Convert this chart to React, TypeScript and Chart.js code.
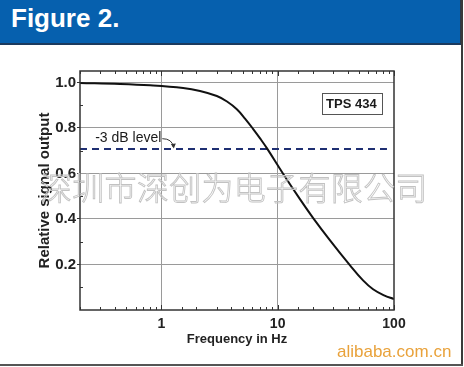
import React, { useEffect, useRef } from 'react';
import { Chart, registerables } from 'chart.js';

Chart.register(...registerables);

// ---- data ----
const freqHz = [0.2, 0.44, 0.8, 1.54, 2.15, 3.0, 3.67, 4.48, 5.24, 6.14, 7.06, 8.1, 11.1, 15.6, 20.2, 28.2, 41.9, 54.2, 66.1, 82.2, 100];
const relOutput = [0.997, 0.993, 0.987, 0.975, 0.962, 0.940, 0.916, 0.881, 0.841, 0.796, 0.754, 0.71, 0.6, 0.486, 0.404, 0.306, 0.196, 0.13, 0.091, 0.064, 0.048];
const levelFreq = [0.2, 87];
const levelValue = [0.707, 0.707];
const xTickLabels = [1, 10, 100];
const yTickLabels = [0.2, 0.4, 0.6, 0.8, 1.0];
const titleText = 'Figure 2.';
const xTitle = 'Frequency in Hz';
const yTitle = 'Relative signal output';
const levelLabel = '-3 dB level';
const levelLabelPos = [0.27, 0.757];
const deviceLabel = 'TPS 434';
const deviceLabelPos = [43, 0.909];
const watermark = '深圳市深创为电子有限公司';
const siteMark = 'alibaba.com.cn';

const FONT = '"Liberation Sans", Arial, Helvetica, sans-serif';

const isX = (v: number, list: number[]) => list.some((m) => Math.abs(m - v) < 1e-6 * Math.max(1, m));
const isYMajor = (v: number) => yTickLabels.some((m) => Math.abs(m - v) < 1e-6);
const isYMinor = (v: number) => {
  const r = Math.round(v * 10);
  return Math.abs(v * 10 - r) < 1e-6 && r % 2 === 1;
};

const decor = {
  id: 'decor',
  afterDraw(chart: any) {
    const { ctx, chartArea: a, scales } = chart;
    const x = scales.x;
    const y = scales.y;
    ctx.save();
    // inner ticks on bottom and top
    ctx.strokeStyle = '#333';
    ctx.lineWidth = 1;
    x.ticks.forEach((t: any) => {
      const px = Math.round(x.getPixelForValue(t.value)) + 0.5;
      const major = isX(t.value, xTickLabels);
      const len = major ? 5 : 3;
      ctx.beginPath();
      ctx.moveTo(px, a.bottom);
      ctx.lineTo(px, a.bottom - len);
      ctx.moveTo(px, a.top);
      ctx.lineTo(px, a.top + len);
      ctx.stroke();
    });
    y.ticks.forEach((t: any) => {
      if (!isYMinor(t.value)) return;
      const py = Math.round(y.getPixelForValue(t.value)) + 0.5;
      ctx.beginPath();
      ctx.moveTo(a.left, py);
      ctx.lineTo(a.left + 3, py);
      ctx.stroke();
    });
    // frame
    ctx.strokeStyle = '#333';
    ctx.lineWidth = 1.5;
    ctx.strokeRect(a.left, a.top, a.right - a.left, a.bottom - a.top);

    // -3 dB label with arrow
    ctx.font = `14px ${FONT}`;
    ctx.fillStyle = '#1a1a1a';
    ctx.textAlign = 'left';
    ctx.textBaseline = 'middle';
    const lx = x.getPixelForValue(levelLabelPos[0]);
    const ly = y.getPixelForValue(levelLabelPos[1]);
    ctx.fillText(levelLabel, lx, ly);
    const w = ctx.measureText(levelLabel).width;
    const ay = y.getPixelForValue(levelValue[0]);
    const sx = lx + w + 1;
    const ex = sx + 11;
    const ey = ay - 2;
    ctx.strokeStyle = '#333';
    ctx.lineWidth = 1;
    ctx.beginPath();
    ctx.moveTo(sx, ly + 1);
    ctx.quadraticCurveTo(ex - 1, ly + 1, ex, ey);
    ctx.stroke();
    ctx.fillStyle = '#333';
    ctx.beginPath();
    ctx.moveTo(ex + 0.5, ey + 1.5);
    ctx.lineTo(ex - 2.5, ey - 3);
    ctx.lineTo(ex + 2.5, ey - 3.5);
    ctx.closePath();
    ctx.fill();

    // device label box
    ctx.font = `bold 13px ${FONT}`;
    ctx.textAlign = 'center';
    ctx.fillStyle = '#1a1a1a';
    const dx = x.getPixelForValue(deviceLabelPos[0]);
    const dy = y.getPixelForValue(deviceLabelPos[1]);
    const dw = ctx.measureText(deviceLabel).width + 9;
    const dh = 21;
    ctx.fillText(deviceLabel, dx, dy + 1);
    ctx.strokeStyle = '#555';
    ctx.lineWidth = 1;
    ctx.strokeRect(Math.round(dx - dw / 2) + 0.5, Math.round(dy - dh / 2) + 0.5, Math.round(dw), dh);
    ctx.restore();
  },
};

export default function App() {
  const ref = useRef<HTMLCanvasElement | null>(null);

  useEffect(() => {
    document.body.style.margin = '0';
    if (!ref.current) return;
    const chart = new Chart(ref.current, {
      type: 'line',
      data: {
        datasets: [
          {
            data: freqHz.map((f, i) => ({ x: f, y: relOutput[i] })),
            borderColor: '#111',
            borderWidth: 2,
            pointRadius: 0,
            tension: 0.4,
            fill: false,
          },
          {
            data: levelFreq.map((f, i) => ({ x: f, y: levelValue[i] })),
            borderColor: '#1f2f72',
            borderWidth: 2,
            borderDash: [7, 5],
            pointRadius: 0,
            fill: false,
          },
        ],
      },
      options: {
        animation: false,
        responsive: false,
        devicePixelRatio: 1,
        layout: { padding: { top: 71, right: 70, left: 0, bottom: 0 } },
        plugins: { legend: { display: false }, tooltip: { enabled: false } },
        scales: {
          x: {
            type: 'logarithmic',
            min: 0.2,
            max: 100,
            afterFit: (s: any) => {
              s.height = 57;
            },
            border: { display: false },
            grid: {
              drawTicks: false,
              color: (c: any) => (c.tick && isX(c.tick.value, [1, 10]) ? '#9a9a9a' : 'rgba(0,0,0,0)'),
              lineWidth: 1,
            },
            ticks: {
              autoSkip: false,
              maxRotation: 0,
              minRotation: 0,
              padding: 6,
              color: '#222',
              font: { family: FONT, size: 14, weight: 'bold' },
              callback: (v: any) => (isX(Number(v), xTickLabels) ? String(Math.round(Number(v))) : ''),
            },
            title: {
              display: true,
              text: xTitle,
              color: '#222',
              font: { family: FONT, size: 13, weight: 'bold' },
              padding: { top: 0, bottom: 20 },
            },
          },
          y: {
            type: 'linear',
            min: 0,
            max: 1.05,
            afterFit: (s: any) => {
              s.width = 80;
            },
            border: { display: false },
            grid: {
              drawTicks: true,
              tickLength: 3,
              color: (c: any) => (c.tick && isYMajor(c.tick.value) ? '#9a9a9a' : 'rgba(0,0,0,0)'),
              tickColor: (c: any) => (c.tick && isYMajor(c.tick.value) ? '#333' : 'rgba(0,0,0,0)'),
            },
            ticks: {
              stepSize: 0.1,
              includeBounds: false,
              padding: 1,
              color: '#222',
              font: { family: FONT, size: 15, weight: 'bold' },
              callback: (v: any) => (isYMajor(Number(v)) ? Number(v).toFixed(1) : ''),
            },
            title: {
              display: true,
              text: yTitle,
              color: '#222',
              font: { family: FONT, size: 15, weight: 'bold' },
              padding: { top: 36, bottom: 0 },
            },
          },
        },
      } as any,
      plugins: [decor],
    });
    return () => chart.destroy();
  }, []);

  return (
    <div style={{ position: 'relative', width: 464, height: 367, background: '#fff', overflow: 'hidden' }}>
      <canvas ref={ref} width={464} height={367} style={{ position: 'absolute', left: 0, top: 0, display: 'block' }} />
      <div
        style={{
          position: 'absolute',
          left: 0,
          top: 0,
          width: 460,
          height: 43,
          background: '#0660ae',
          borderBottom: '2px solid #1b3a5e',
          borderRight: '2px solid #2a3a4a',
        }}
      >
        <span
          style={{
            position: 'absolute',
            left: 11,
            top: 4,
            color: '#fff',
            fontFamily: FONT,
            fontWeight: 'bold',
            fontSize: 26,
            lineHeight: '29px',
            whiteSpace: 'nowrap',
          }}
        >
          {titleText}
        </span>
      </div>
      <div style={{ position: 'absolute', left: 461, top: 0, width: 2, height: 366, background: '#3a3a3a' }} />
      <div style={{ position: 'absolute', left: 0, top: 364, width: 463, height: 2, background: '#555' }} />
      <span
        style={{
          position: 'absolute',
          left: 40,
          top: 170,
          fontFamily: '"Noto Sans CJK SC", sans-serif',
          fontWeight: 300,
          fontSize: 32,
          lineHeight: '32px',
          letterSpacing: 0.3,
          color: 'transparent',
          WebkitTextStroke: '0.9px #c2c2c2',
          whiteSpace: 'nowrap',
          pointerEvents: 'none',
        } as any}
      >
        {watermark}
      </span>
      <span
        style={{
          position: 'absolute',
          left: 337,
          top: 342,
          fontFamily: FONT,
          fontSize: 17,
          lineHeight: '20px',
          color: '#e9a23b',
          whiteSpace: 'nowrap',
        }}
      >
        {siteMark}
      </span>
    </div>
  );
}
